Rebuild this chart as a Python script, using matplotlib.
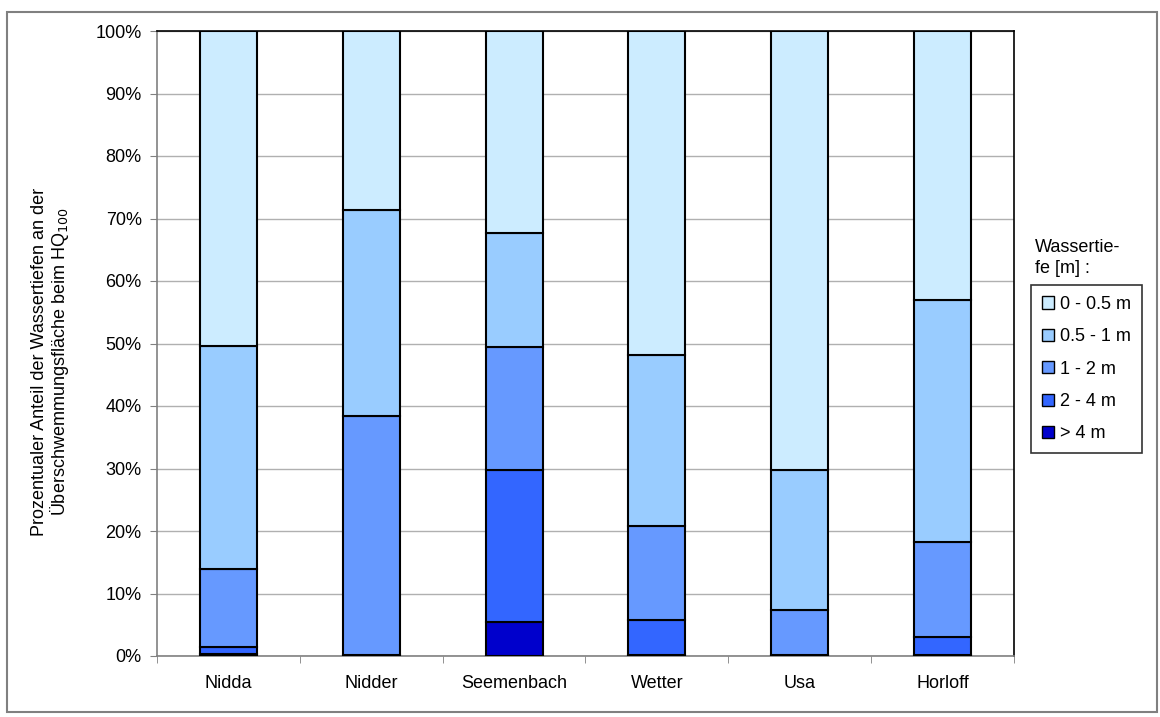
import numpy as np
import matplotlib.pyplot as plt
from matplotlib.patches import Rectangle

plt.rcParams['font.family'] = ['Liberation Sans', 'DejaVu Sans']

# river names on the x axis
rivers = ['Nidda', 'Nidder', 'Seemenbach', 'Wetter', 'Usa', 'Horloff']
# depth classes (bottom to top)
classes = ['> 4 m', '2 - 4 m', '1 - 2 m', '0.5 - 1 m', '0 - 0.5 m']
colors = ['#0000CC', '#3366FF', '#6699FF', '#99CCFF', '#CCECFF']

# share in percent per river
gt4 = [0.4, 0.1, 5.4, 0.2, 0.1, 0.1]
d2_4 = [1.0, 0.1, 24.4, 5.6, 0.1, 3.0]
d1_2 = [12.6, 38.2, 19.6, 15.0, 7.1, 15.1]
d05_1 = [35.6, 33.0, 18.3, 27.4, 22.5, 38.8]
d0_05 = [50.4, 28.6, 32.3, 51.8, 70.2, 43.0]

values = [gt4, d2_4, d1_2, d05_1, d0_05]

fs = 13

fig = plt.figure(figsize=(11.6, 7.17), dpi=100)
ax = fig.add_axes([157 / 1160, 1 - 656 / 717, (1014 - 157) / 1160, (656 - 31) / 717])

x = np.arange(len(rivers))
bottom = np.zeros(len(rivers))
handles = []
for vals, col, lab in zip(values, colors, classes):
    b = ax.bar(x, vals, width=0.4, bottom=bottom, color=col, edgecolor='black',
               linewidth=1.5, label=lab, zorder=3)
    handles.append(b)
    bottom += np.array(vals)

ax.set_xlim(-0.5, len(rivers) - 0.5)
ax.set_ylim(0, 100)
ax.set_yticks(np.arange(0, 101, 10))
ax.set_yticklabels([f'{v}%' for v in range(0, 101, 10)], fontsize=fs)
ax.set_xticks(x)
ax.set_xticklabels(rivers, fontsize=fs)
ax.set_xticks(np.arange(-0.5, len(rivers), 1), minor=True)
ax.tick_params(axis='x', which='major', length=0, pad=14)
ax.tick_params(axis='x', which='minor', length=5, color='#808080')
ax.tick_params(axis='y', length=5, color='#808080', pad=6)
ax.grid(axis='y', color='#B0B0B0', linewidth=1, zorder=0)

for s in ['top', 'right']:
    ax.spines[s].set_color('black')
    ax.spines[s].set_linewidth(1.2)
for s in ['left', 'bottom']:
    ax.spines[s].set_color('#808080')
    ax.spines[s].set_linewidth(1.2)

fig.text(51 / 1160, 1 - 362 / 717,
         'Prozentualer Anteil der Wassertiefen an der\nÜberschwemmungsfläche beim HQ$_{100}$',
         rotation=90, ha='center', va='center', fontsize=fs, linespacing=0.95)

fig.text(1035 / 1160, 1 - 258 / 717, 'Wassertie-\nfe [m] :', ha='left', va='center',
         fontsize=fs, linespacing=1.3)

leg = fig.legend(handles[::-1], classes[::-1], loc='upper left',
                 bbox_to_anchor=(1031 / 1160, 1 - 285 / 717), fontsize=fs,
                 frameon=True, fancybox=False, edgecolor='black',
                 handlelength=0.65, handleheight=0.65, handletextpad=0.35,
                 labelspacing=0.85, borderpad=0.6, borderaxespad=0)
leg.get_frame().set_linewidth(1.2)
for h in leg.legend_handles:
    h.set_linewidth(1.0)

fig.patches.append(Rectangle((7 / 1160, 1 - 712 / 717), 1150 / 1160, 700 / 717,
                             transform=fig.transFigure, fill=False,
                             edgecolor='#808080', linewidth=1.5))

fig.savefig('out.png', dpi=100)
